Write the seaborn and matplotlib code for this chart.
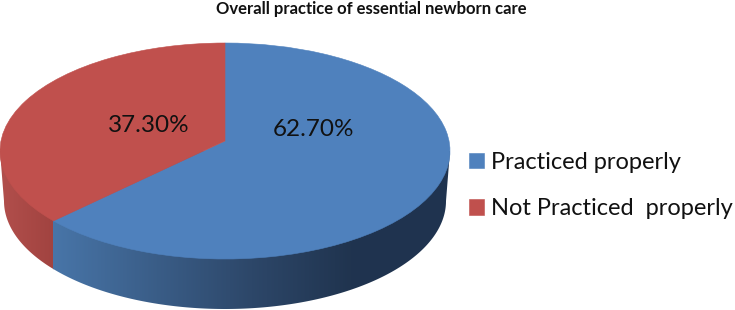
import numpy as np
import matplotlib
matplotlib.use("Agg")
import matplotlib.pyplot as plt
import seaborn as sns
from matplotlib.colors import LinearSegmentedColormap
from matplotlib.patches import Polygon
from matplotlib.transforms import Transform

categories = ["Practiced properly", "Not Practiced  properly"]
values = [62.70, 37.30]
colors = ["#4F81BD", "#C0504D"]
title = "Overall practice of essential newborn care"

sns.set_theme(style="white")
plt.rcParams["font.family"] = ["Lato", "DejaVu Sans"]

W, H = 735, 310
CX, CY, RX, RY = 225.0, 151.0, 225.0, 108.0
BOTTOM_CY, BOTTOM_RX = 201.0, 221.0
TILT = 0.093


def ux(px):
    return (px - CX) / RX


def uy(py):
    return (CY - py) / RY


class Perspective(Transform):
    input_dims = output_dims = 2
    is_affine = False

    def transform_non_affine(self, xy):
        xy = np.asarray(xy, dtype=float)
        d = 1 + TILT * xy[:, 1]
        return np.column_stack([xy[:, 0] * np.sqrt(1 - TILT ** 2) / d,
                                (xy[:, 1] + TILT) / d])


fig = plt.figure(figsize=(W / 100, H / 100), dpi=100)
ax = fig.add_axes([0, 0, 1, 1])

wedges, _, autotexts = ax.pie(
    values, colors=colors, startangle=90, counterclock=False,
    autopct="%.2f%%", radius=1.0,
    wedgeprops={"linewidth": 0.4, "zorder": 5},
    textprops={"fontsize": 17.5, "color": "#111111", "zorder": 6},
)
persp = Perspective()
for w, c in zip(wedges, colors):
    w.set_transform(persp + ax.transData)
    w.set_edgecolor(c)

autotexts[0].set_position((ux(313), uy(130)))
autotexts[1].set_position((ux(149), uy(126)))
for t in autotexts:
    t.set_ha("center")
    t.set_va("center")

# side wall of the disc, shaded left to right
t = np.linspace(np.pi, 0, 300)
wall_x = np.r_[ux(CX + BOTTOM_RX * np.cos(t)), ux(CX + RX), ux(CX - RX)]
wall_y = np.r_[uy(BOTTOM_CY + RY * np.sin(t)), uy(CY), uy(CY)]
wall = np.column_stack([wall_x, wall_y])

# boundary of the two slices on the wall, from the slice share
ang = np.deg2rad(90 - 360 * values[0] / sum(values))
split = persp.transform_non_affine(np.array([[np.cos(ang), np.sin(ang)]]))[0, 0]

blue_cmap = LinearSegmentedColormap.from_list(
    "bw", [(0, "#4875A8"), (0.5, "#2D4769"), (0.75, "#20344F"), (1, "#1F3350")])
red_cmap = LinearSegmentedColormap.from_list("rw", ["#B24F4C", "#A14340"])
grad = np.linspace(0, 1, 256)[None, :]
for cmap, x0, x1 in [(red_cmap, -1.0, split), (blue_cmap, split, 1.0)]:
    im = ax.imshow(grad, cmap=cmap, extent=(x0, x1, uy(310), uy(CY)),
                   aspect="auto", zorder=2, interpolation="bilinear")
    clip = Polygon(wall, closed=True, transform=ax.transData, fc="none", ec="none")
    ax.add_patch(clip)
    im.set_clip_path(clip)

ax.set_aspect("auto")
ax.set_xlim(ux(0), ux(W))
ax.set_ylim(uy(H), uy(0))
ax.axis("off")

ax.text(ux(371), uy(9), title, ha="center", va="center",
        fontsize=12, fontweight="bold", color="#111111")

leg = ax.legend(
    wedges, categories, loc="upper left", bbox_to_anchor=(469 / W, 1 - 152 / H),
    frameon=False, fontsize=17, handlelength=0.63, handleheight=0.63,
    handletextpad=0.3, labelspacing=1.08, borderpad=0, borderaxespad=0,
    labelcolor="#111111",
)

fig.savefig("out.png", dpi=100, facecolor="white")
